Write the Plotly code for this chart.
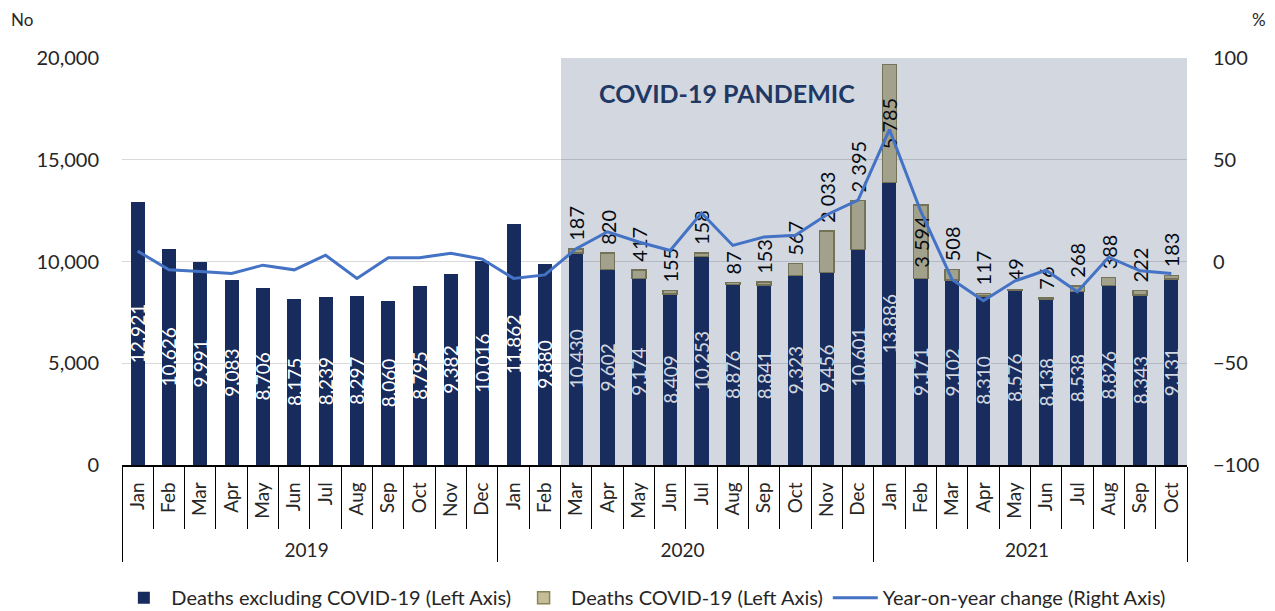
import plotly.graph_objects as go

years = ["2019"] * 12 + ["2020"] * 12 + ["2021"] * 10
months = ["Jan", "Feb", "Mar", "Apr", "May", "Jun", "Jul", "Aug", "Sep", "Oct", "Nov", "Dec",
          "Jan", "Feb", "Mar", "Apr", "May", "Jun", "Jul", "Aug", "Sep", "Oct", "Nov", "Dec",
          "Jan", "Feb", "Mar", "Apr", "May", "Jun", "Jul", "Aug", "Sep", "Oct"]

deaths_excl = [12921, 10626, 9991, 9083, 8706, 8175, 8239, 8297, 8060, 8795, 9382, 10016,
               11862, 9880, 10430, 9602, 9174, 8409, 10253, 8876, 8841, 9323, 9456, 10601,
               13886, 9171, 9102, 8310, 8576, 8138, 8538, 8826, 8343, 9131]

deaths_covid = [None] * 12 + [None, None, 187, 820, 417, 155, 158, 87, 153, 567, 2033, 2395,
                              5785, 3594, 508, 117, 49, 76, 268, 388, 222, 183]

yoy_change = [5.1, -4.1, -4.9, -5.9, -1.8, -4.1, 3.1, -8.3, 1.9, 1.9, 4.1, 1.2,
              -8.3, -6.6, 6.3, 14.6, 9.6, 5.4, 23.8, 7.9, 12.1, 12.9, 23.0, 30.2,
              64.8, 24.7, -8.8, -19.3, -9.6, -4.3, -14.9, 2.1, -4.6, -5.9]

pandemic_start_index = 14  # Mar 2020
n_pandemic = len(months) - pandemic_start_index

FONT = "Lato"
TXT = "#262626"
NAVY = "#172B5C"
BEIGE = "#C4BD97"
OLIVE = "#8A8356"
LINE = "#4472C4"
NBSP = "\u00a0"

# month labels padded (rotated text: leading space sits at the bottom)
month_labels = [NBSP * 2 + m for m in months]
x = [years, month_labels]

excl_text = [f"{v:,}" for v in deaths_excl]
covid_pos = ["inside" if (v is not None and v > 3000) else "outside" for v in deaths_covid]
covid_text = ["" if v is None else
              ((NBSP if p == "outside" else "") + f"{v:,}".replace(",", " "))
              for v, p in zip(deaths_covid, covid_pos)]

fig = go.Figure()

fig.add_trace(go.Bar(
    x=x, y=deaths_excl, name="Deaths excluding COVID-19 (Left Axis)",
    marker=dict(color=NAVY, line=dict(width=0)),
    text=excl_text, textposition="inside", insidetextanchor="middle", textangle=-90,
    constraintext="none",
    insidetextfont=dict(color="white", size=19, family=FONT),
))
fig.add_trace(go.Bar(
    x=x, y=deaths_covid, name="Deaths COVID-19 (Left Axis)",
    marker=dict(color=BEIGE, line=dict(color=OLIVE, width=1.5)),
    text=covid_text, textposition=covid_pos, insidetextanchor="middle", textangle=-90,
    constraintext="none",
    insidetextfont=dict(color="black", size=20, family=FONT),
    outsidetextfont=dict(color="black", size=20, family=FONT),
    cliponaxis=False,
))
# pandemic shading (semi-transparent overlay)
fig.add_trace(go.Bar(
    x=[[years[-1]], [month_labels[-1]]], y=[20000], yaxis="y2",
    width=[n_pandemic], offset=[-(n_pandemic - 0.5)],
    marker=dict(color="rgba(31,56,100,0.2)", line=dict(width=0)),
    showlegend=False, hoverinfo="skip",
))
fig.add_trace(go.Scatter(
    x=x, y=yoy_change, name="Year-on-year change (Right Axis)", yaxis="y3",
    mode="lines", line=dict(color=LINE, width=3),
))

fig.update_layout(
    width=1267, height=603,
    barmode="stack", bargap=0.55,
    plot_bgcolor="white", paper_bgcolor="white",
    margin=dict(l=114, r=88, t=50, b=146, autoexpand=False),
    font=dict(family=FONT, size=19, color=TXT),
    xaxis=dict(
        type="multicategory", showline=True, linecolor="black", linewidth=1.5,
        ticks="outside", ticklen=62, tickcolor="black", tickson="boundaries",
        tickangle=-90, tickfont=dict(size=19, color=TXT), showdividers=True,
        dividercolor="black", dividerwidth=1, showgrid=False, ticklabelstandoff=8,
    ),
    yaxis=dict(
        range=[0, 20000], dtick=5000, tickformat=",", showgrid=True, gridcolor="#D9D9D9",
        gridwidth=1, zeroline=False, showline=False, ticks="", ticklabelstandoff=22,
        tickfont=dict(size=20, color=TXT),
    ),
    yaxis2=dict(range=[0, 20000], overlaying="y", visible=False),
    yaxis3=dict(
        range=[-100, 100], dtick=50, overlaying="y", side="right", showgrid=False,
        zeroline=False, showline=False, ticks="", ticklabelstandoff=25,
        tickfont=dict(size=20, color=TXT),
    ),
    legend=dict(orientation="h", x=0.49, xanchor="center", y=-0.326, yanchor="middle",
                font=dict(size=20, color=TXT), traceorder="normal", itemwidth=45),
    annotations=[
        dict(text="<b>COVID-19 PANDEMIC</b>", xref="paper", yref="paper", x=0.568, y=0.915,
             xanchor="center", yanchor="middle",
             showarrow=False, font=dict(size=25, color="#1F3864", family=FONT)),
        dict(text="No", xref="paper", yref="paper", x=-0.094, y=1.094, xanchor="center",
             yanchor="middle", showarrow=False, font=dict(size=17, color=TXT)),
        dict(text="%", xref="paper", yref="paper", x=1.068, y=1.094, xanchor="center",
             yanchor="middle", showarrow=False, font=dict(size=17, color=TXT)),
    ],
)
fig.write_html("out.html")
